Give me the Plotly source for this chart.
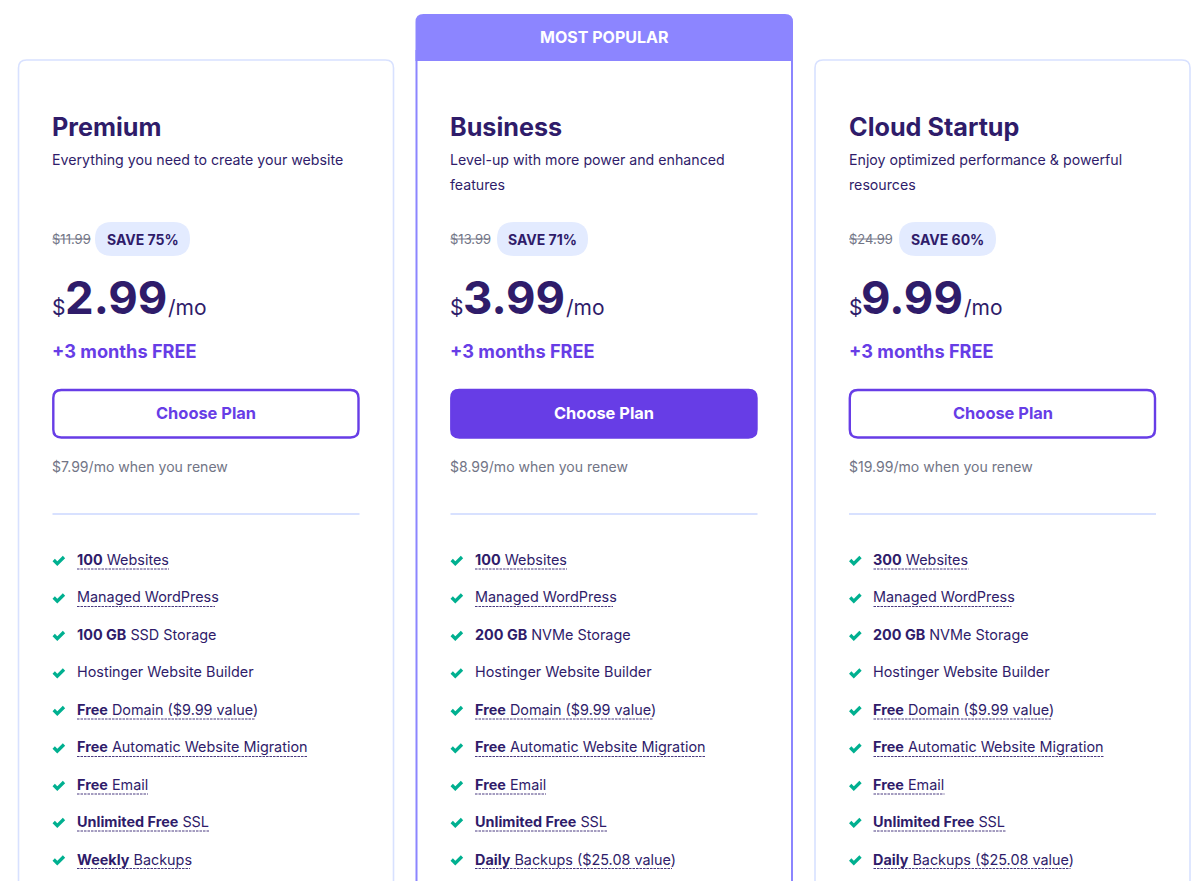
import plotly.graph_objects as go

# Pricing table content
plan_names = ['Premium', 'Business', 'Cloud Startup']
plan_desc = [
    ['Everything you need to create your website'],
    ['Level-up with more power and enhanced', 'features'],
    ['Enjoy optimized performance & powerful', 'resources'],
]
old_prices = ['$11.99', '$13.99', '$24.99']
discounts = ['SAVE 75%', 'SAVE 71%', 'SAVE 60%']
prices = ['2.99', '3.99', '9.99']
free_text = ['+3 months FREE', '+3 months FREE', '+3 months FREE']
renewals = ['$7.99/mo when you renew', '$8.99/mo when you renew', '$19.99/mo when you renew']
banner = 'MOST POPULAR'
button_label = 'Choose Plan'

premium_features = [
    '<b>100</b> Websites', 'Managed WordPress', '<b>100 GB</b> SSD Storage',
    'Hostinger Website Builder', '<b>Free</b> Domain ($9.99 value)',
    '<b>Free</b> Automatic Website Migration', '<b>Free</b> Email',
    '<b>Unlimited Free</b> SSL', '<b>Weekly</b> Backups',
]
business_features = [
    '<b>100</b> Websites', 'Managed WordPress', '<b>200 GB</b> NVMe Storage',
    'Hostinger Website Builder', '<b>Free</b> Domain ($9.99 value)',
    '<b>Free</b> Automatic Website Migration', '<b>Free</b> Email',
    '<b>Unlimited Free</b> SSL', '<b>Daily</b> Backups ($25.08 value)',
]
cloud_features = [
    '<b>300</b> Websites', 'Managed WordPress', '<b>200 GB</b> NVMe Storage',
    'Hostinger Website Builder', '<b>Free</b> Domain ($9.99 value)',
    '<b>Free</b> Automatic Website Migration', '<b>Free</b> Email',
    '<b>Unlimited Free</b> SSL', '<b>Daily</b> Backups ($25.08 value)',
]
features = [premium_features, business_features, cloud_features]

# Colours
DARK = '#2f1c6a'
PURPLE = '#673de6'
BANNER = '#8c85ff'
LINE = '#d8e1ff'
PILL = '#e3ebff'
GREY = '#727586'
GREEN = '#00b090'
FONT = 'Inter'

# Layout, in page pixels
COL_X = [52.5, 450.5, 849]
CARD_X = [(18.5, 393.5), (416.5, 792), (815, 1190)]
PILL_X = [(95, 190), (497, 588), (899, 996)]
ROW_Y = [560, 597.5, 635, 672.5, 710, 747.5, 785, 822, 859.5]
# underline lengths for each row, 0 means not underlined
UNDERLINES = [
    [92, 138, 0, 0, 178, 231, 71, 132, 113],
    [92, 138, 0, 0, 178, 231, 71, 132, 197],
    [95, 138, 0, 0, 178, 231, 71, 132, 197],
]

fig = go.Figure()


def text(x, y, s, size, color=DARK, anchor='left', weight=None):
    font = dict(family=FONT, size=size, color=color)
    if weight:
        font['weight'] = weight
    fig.add_annotation(x=x, y=y, text=s, showarrow=False, xanchor=anchor, yanchor='middle',
                       align=anchor, font=font, borderpad=0, borderwidth=0)


def round_rect(x0, y0, x1, y1, r):
    return (f'M {x0+r},{y0} L {x1-r},{y0} Q {x1},{y0} {x1},{y0+r} L {x1},{y1-r} Q {x1},{y1} {x1-r},{y1} '
            f'L {x0+r},{y1} Q {x0},{y1} {x0},{y1-r} L {x0},{y0+r} Q {x0},{y0} {x0+r},{y0} Z')


def open_card(x0, y0, x1, r):
    return (f'M {x0},900 L {x0},{y0+r} Q {x0},{y0} {x0+r},{y0} L {x1-r},{y0} '
            f'Q {x1},{y0} {x1},{y0+r} L {x1},900')


# Cards
for i in (0, 2):
    x0, x1 = CARD_X[i]
    fig.add_shape(type='path', path=open_card(x0, 60, x1, 8), line=dict(color=LINE, width=1.6))
x0, x1 = CARD_X[1]
fig.add_shape(type='path', path=f'M {x0},900 L {x0},50 M {x1},900 L {x1},50', line=dict(color=BANNER, width=2))
fig.add_shape(type='path',
              path=f'M {x0-1},61 L {x0-1},22 Q {x0-1},14 {x0+7},14 L {x1-7},14 Q {x1+1},14 {x1+1},22 L {x1+1},61 Z',
              fillcolor=BANNER, line=dict(width=0))
text((x0 + x1) / 2, 37, f'<b>{banner}</b>', 16, 'white', 'center')

for i, x in enumerate(COL_X):
    tx = x - 0.3
    text(tx, 126.5, f'<b>{plan_names[i]}</b>', 25.2)
    for j, line in enumerate(plan_desc[i]):
        text(tx, 159.6 + j * 25, line, 14.2)

    # old price and discount pill
    text(tx, 239, old_prices[i], 13, GREY)
    fig.add_shape(type='line', x0=x, x1=x + 38, y0=239, y1=239, line=dict(color=GREY, width=1))
    p0, p1 = PILL_X[i]
    fig.add_shape(type='path', path=round_rect(p0, 222, p1, 256, 17), fillcolor=PILL, line=dict(width=0))
    text((p0 + p1) / 2, 239, f'<b>{discounts[i]}</b>', 14, anchor='center')

    # price
    text(tx, 307, '$', 21)
    text(x + 12, 297, f'<b>{prices[i]}</b>', 45.5)
    text(x + 115, 307, '/mo', 21)
    text(tx, 351, f'<b>{free_text[i]}</b>', 18.2, PURPLE)

    # button
    btn = round_rect(x + 0.8, 390, x + 306, 437.5, 8)
    if i == 1:
        fig.add_shape(type='path', path=btn, fillcolor=PURPLE, line=dict(color=PURPLE, width=2.4))
    else:
        fig.add_shape(type='path', path=btn, fillcolor='white', line=dict(color=PURPLE, width=2.4))
    text(x + 153.5, 413, f'<b>{button_label}</b>', 16.4, 'white' if i == 1 else PURPLE, 'center')

    text(tx, 466.6, renewals[i], 14.05, GREY)
    fig.add_shape(type='line', x0=x, x1=x + 307, y0=514, y1=514, line=dict(color=LINE, width=2))

    # feature rows
    for k, y in enumerate(ROW_Y):
        fig.add_shape(type='path',
                      path=f'M {x+1.2},{y} L {x+4.8},{y+3.6} L {x+11.5},{y-3}',
                      line=dict(color=GREEN, width=3.3))
        text(x + 24.4, y - 0.4, features[i][k], 14.4)
        if UNDERLINES[i][k]:
            fig.add_shape(type='line', x0=x + 24.5, x1=x + 24.5 + UNDERLINES[i][k], y0=y + 9, y1=y + 9,
                          line=dict(color='#4a3a80', width=1, dash='2.5px,1px'))

fig.update_xaxes(range=[0, 1200], visible=False, fixedrange=True)
fig.update_yaxes(range=[881, 0], visible=False, fixedrange=True)
fig.update_layout(width=1200, height=881, margin=dict(l=0, r=0, t=0, b=0),
                  plot_bgcolor='white', paper_bgcolor='white', showlegend=False)

fig.write_html('out.html', config=dict(displayModeBar=False),
               post_script="document.body.style.margin='0';document.body.style.overflow='hidden';")
